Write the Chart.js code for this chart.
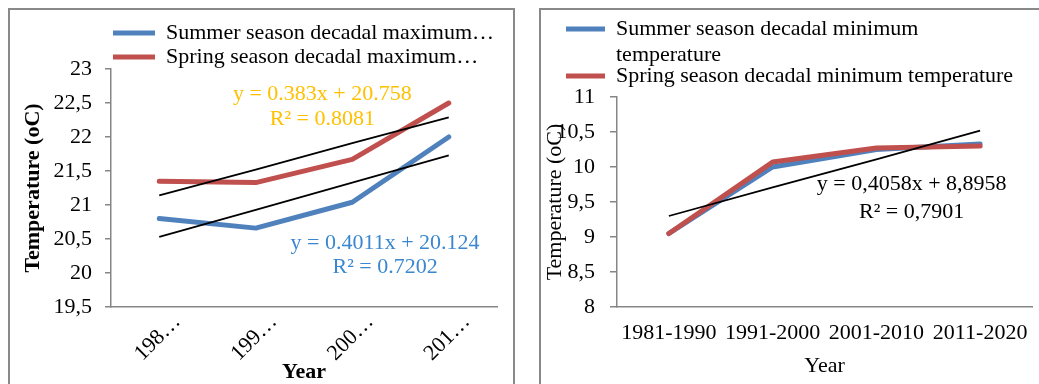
<!DOCTYPE html>
<html>
<head>
<meta charset="utf-8">
<script src="https://cdn.jsdelivr.net/npm/chart.js@4"></script>
<style>
  body { margin: 0; background: #fff; width: 1039px; height: 384px; overflow: hidden; position: relative; }
  .panel { position: absolute; top: 8px; border: 2px solid #898989; overflow: hidden; background: #fff; }
  #left { left: 8px; width: 503px; height: 400px; }
  #right { left: 539px; width: 510px; height: 400px; }
</style>
</head>
<body>
<div class="panel" id="left"><canvas id="maxChart" width="503" height="390"></canvas></div>
<div class="panel" id="right"><canvas id="minChart" width="510" height="390"></canvas></div>
<script>
const decades = ['1981-1990', '1991-2000', '2001-2010', '2011-2020'];

// decadal maximum temperature (oC)
const summerMax = [20.80, 20.66, 21.04, 22.00];
const springMax = [21.35, 21.33, 21.67, 22.50];
const summerMaxTrend = [20.53, 20.93, 21.33, 21.73];
const springMaxTrend = [21.14, 21.52, 21.91, 22.29];

// decadal minimum temperature (oC)
const summerMin = [9.05, 10.00, 10.25, 10.33];
const springMin = [9.05, 10.07, 10.27, 10.30];
const summerMinTrend = [9.30, 9.71, 10.11, 10.52];

const maxNames = ['Summer season decadal maximum…', 'Spring season decadal maximum…'];
const minNames = [['Summer season decadal minimum', 'temperature'], 'Spring season decadal minimum temperature'];

const maxTicks = {min: 19.5, max: 23, step: 0.5};
const minTicks = {min: 8, max: 11, step: 0.5};

// trend equations, placed in data units (category index, value of each line)
const maxNotes = [
  {lines: ['y = 0.383x + 20.758', 'R² = 0.8081'], color: '#ffc000', x: 1.69, y: [22.63, 22.26]},
  {lines: ['y = 0.4011x + 20.124', 'R² = 0.7202'], color: '#3a87cf', x: 2.34, y: [20.44, 20.09]}
];
const minNotes = [
  {lines: ['y = 0,4058x + 8,8958', 'R² = 0,7901'], color: '#000', x: 2.34, y: [9.75, 9.36]}
];

const blue = '#4f81bd';
const red = '#c0504d';
const axisGrey = '#868686';
const serif = "'Liberation Serif', 'Times New Roman', serif";

Chart.defaults.font.family = serif;
Chart.defaults.font.size = 22;
Chart.defaults.color = '#000';

function seriesLine(label, values, color, order) {
  return {
    label: label, data: values, borderColor: color, backgroundColor: color,
    borderWidth: 5, pointRadius: 0, tension: 0,
    borderJoinStyle: 'round', borderCapStyle: 'round', order: order
  };
}

function trendLine(values) {
  return {label: 'Linear trend', data: values, borderColor: '#000', borderWidth: 1.8, pointRadius: 0, order: 0};
}

function notesPlugin(notes) {
  return {
    id: 'trendNotes',
    afterDatasetsDraw(chart) {
      const {ctx, scales: {x, y}} = chart;
      ctx.save();
      ctx.font = '22px ' + serif;
      ctx.textAlign = 'center';
      ctx.textBaseline = 'middle';
      notes.forEach(n => {
        ctx.fillStyle = n.color;
        n.lines.forEach((line, i) => {
          ctx.fillText(line, x.getPixelForValue(n.x), y.getPixelForValue(n.y[i]));
        });
      });
      ctx.restore();
    }
  };
}

const commaTick = v => String(v).replace('.', ',');

// legend keeps dataset order and hides the trend lines
const legendLabels = {
  filter: item => item.datasetIndex < 2,
  sort: (a, b) => a.datasetIndex - b.datasetIndex,
  usePointStyle: true,
  pointStyle: 'line'
};

// left: maximum temperature
new Chart(document.getElementById('maxChart'), {
  type: 'line',
  data: {
    labels: decades,
    datasets: [
      seriesLine(maxNames[0], summerMax, blue, 2),
      seriesLine(maxNames[1], springMax, red, 1),
      trendLine(summerMaxTrend),
      trendLine(springMaxTrend)
    ]
  },
  plugins: [notesPlugin(maxNotes)],
  options: {
    responsive: false,
    animation: false,
    layout: {padding: {top: 10, left: 0, right: 16, bottom: 0}},
    plugins: {
      tooltip: {enabled: false},
      legend: {
        fullSize: false,
        align: 'start',
        maxHeight: 49,
        labels: Object.assign({}, legendLabels, {pointStyleWidth: 42, padding: 2})
      }
    },
    scales: {
      x: {
        offset: true,
        grid: {display: false, drawTicks: false},
        border: {color: axisGrey, width: 1.5},
        ticks: {
          autoSkip: false, minRotation: 45, maxRotation: 45,
          labelOffset: 18, padding: 2,
          callback: function (v) { return this.getLabelForValue(v).slice(0, 3) + '…'; }
        },
        title: {display: true, text: 'Year', font: {weight: 'bold'}, padding: {top: 0, bottom: 14}},
        afterFit: s => { s.height = 93; }
      },
      y: {
        min: maxTicks.min, max: maxTicks.max,
        grid: {drawOnChartArea: false, tickLength: 6, color: axisGrey, lineWidth: 1.5},
        border: {color: axisGrey, width: 1.5},
        ticks: {stepSize: maxTicks.step, padding: 13, callback: commaTick},
        title: {display: true, text: 'Temperature (oC)', font: {weight: 'bold'}, padding: {top: 10, bottom: 0}},
        afterFit: s => { s.width = 101; }
      }
    }
  }
});

// right: minimum temperature
new Chart(document.getElementById('minChart'), {
  type: 'line',
  data: {
    labels: decades,
    datasets: [
      seriesLine(minNames[0], summerMin, blue, 2),
      seriesLine(minNames[1], springMin, red, 1),
      trendLine(summerMinTrend)
    ]
  },
  plugins: [notesPlugin(minNotes)],
  options: {
    responsive: false,
    animation: false,
    layout: {padding: {top: -17, left: 0, right: 19, bottom: 0}},
    plugins: {
      tooltip: {enabled: false},
      legend: {
        align: 'start',
        labels: Object.assign({}, legendLabels, {pointStyleWidth: 39, padding: 25})
      }
    },
    scales: {
      x: {
        offset: true,
        grid: {display: false, drawTicks: false},
        border: {color: axisGrey, width: 1.5},
        ticks: {autoSkip: false, maxRotation: 0, padding: 13},
        title: {display: true, text: 'Year', padding: {top: 0, bottom: 21}},
        afterFit: s => { s.height = 93; }
      },
      y: {
        min: minTicks.min, max: minTicks.max,
        grid: {drawOnChartArea: false, tickLength: 7, color: axisGrey, lineWidth: 1.5},
        border: {color: axisGrey, width: 1.5},
        ticks: {stepSize: minTicks.step, padding: 15, callback: commaTick},
        title: {display: true, text: 'Temperature (oC)', padding: {top: 1, bottom: 0}},
        afterFit: s => { s.width = 76; }
      }
    }
  }
});
</script>
</body>
</html>
